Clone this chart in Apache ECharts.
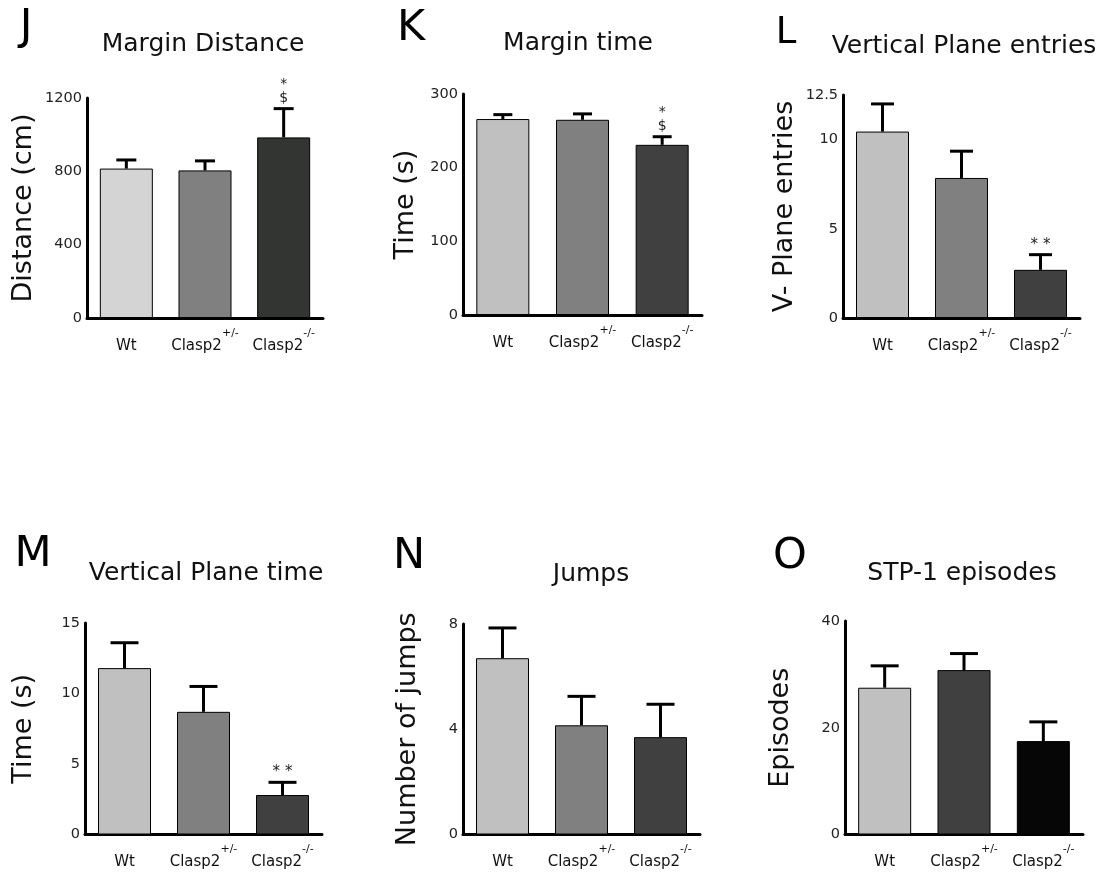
<!DOCTYPE html>
<html><head><meta charset="utf-8">
<script src="https://cdn.jsdelivr.net/npm/echarts@6/dist/echarts.min.js"></script>
<style>html,body{margin:0;padding:0;background:#fff}#c{width:1114px;height:881px}</style>
</head><body><div id="c"></div>
<script>
// ---- data ----
const genotypes = ['Wt', 'Clasp2', 'Clasp2'];
const genotypeSup = ['', '+/-', '-/-'];
const categories = genotypes.map((g, i) => g + genotypeSup[i]);

// J: Margin Distance
const jMean = [815, 805, 985];
const jSem = [47, 52, 157];
const jSig = ['', '', '*\n$'];
const jTicks = [0, 400, 800, 1200];
// K: Margin time
const kMean = [266, 265, 231];
const kSem = [6, 8, 11];
const kSig = ['', '', '*\n$'];
const kTicks = [0, 100, 200, 300];
// L: Vertical Plane entries
const lMean = [10.45, 7.85, 2.7];
const lSem = [1.55, 1.5, 0.85];
const lSig = ['', '', '**'];
const lTicks = [0, 5, 10, 12.5];
// M: Vertical Plane time
const mMean = [11.8, 8.7, 2.8];
const mSem = [1.8, 1.8, 0.9];
const mSig = ['', '', '**'];
const mTicks = [0, 5, 10, 15];
// N: Jumps
const nMean = [6.7, 4.15, 3.7];
const nSem = [1.15, 1.1, 1.25];
const nSig = ['', '', ''];
const nTicks = [0, 4, 8];
// O: STP-1 episodes
const oMean = [27.5, 30.8, 17.5];
const oSem = [4.1, 3.1, 3.6];
const oSig = ['', '', ''];
const oTicks = [0, 20, 40];

// ---- styles / layout ----
const FONT = 'DejaVu Sans';
const greysA = ['#d4d4d4', '#808080', '#333533'];
const greysB = ['#c0c0c0', '#808080', '#404040'];
const greysC = ['#c0c0c0', '#404040', '#060606'];

const panels = [
  {letter: 'J', title: 'Margin Distance', yName: 'Distance (cm)', mean: jMean, sem: jSem, sig: jSig, ticks: jTicks, step: 400,
   colors: greysA, grid: {left: 87, top: 98, width: 236, height: 220}, cap: 20, nameGap: 50, letterPos: [26, 28], letterSize: 43, titlePos: [203, 44]},
  {letter: 'K', title: 'Margin time', yName: 'Time (s)', mean: kMean, sem: kSem, sig: kSig, ticks: kTicks, step: 100,
   colors: greysB, grid: {left: 463, top: 94, width: 239, height: 221}, cap: 19, nameGap: 44, letterPos: [411, 29], letterSize: 43, titlePos: [578, 43]},
  {letter: 'L', title: 'Vertical Plane entries', yName: 'V- Plane entries', mean: lMean, sem: lSem, sig: lSig, ticks: lTicks, step: 2.5,
   colors: greysB, grid: {left: 843, top: 95, width: 237, height: 223}, cap: 23, nameGap: 45, letterPos: [786, 33], letterSize: 37, titlePos: [964, 46]},
  {letter: 'M', title: 'Vertical Plane time', yName: 'Time (s)', mean: mMean, sem: mSem, sig: mSig, ticks: mTicks, step: 5,
   colors: greysB, grid: {left: 85, top: 623, width: 237, height: 220}, cap: 28, nameGap: 48, letterPos: [33, 555], letterSize: 43, titlePos: [206, 573]},
  {letter: 'N', title: 'Jumps', yName: 'Number of jumps', mean: nMean, sem: nSem, sig: nSig, ticks: nTicks, step: 4,
   colors: greysB, grid: {left: 463, top: 624, width: 237, height: 221}, cap: 28, nameGap: 42, letterPos: [409, 557], letterSize: 43, titlePos: [591, 574]},
  {letter: 'O', title: 'STP-1 episodes', yName: 'Episodes', mean: oMean, sem: oSem, sig: oSig, ticks: oTicks, step: 20,
   colors: greysC, grid: {left: 845, top: 621, width: 238, height: 222}, cap: 28, nameGap: 51, letterPos: [790, 557], letterSize: 43, titlePos: [962, 573]}
];

const grids = [], xAxes = [], yAxes = [], series = [], graphics = [];
panels.forEach((p, k) => {
  grids.push(Object.assign({containLabel: false}, p.grid));
  xAxes.push({
    type: 'category', gridIndex: k, data: categories,
    axisLine: {lineStyle: {color: '#000', width: 3}},
    axisTick: {show: false},
    axisLabel: {
      interval: 0, margin: 9, color: '#111',
      formatter: (v, i) => genotypeSup[i] ? `{n|${genotypes[i]}}{s|${genotypeSup[i]}}` : `{n|${genotypes[i]}}`,
      rich: {
        n: {fontSize: 15, fontFamily: FONT, color: '#111', lineHeight: 38},
        s: {fontSize: 11, fontFamily: FONT, color: '#111', lineHeight: 14, padding: [0, 0, 26, 0]}
      }
    }
  });
  const tks = p.ticks;
  yAxes.push({
    type: 'value', gridIndex: k, min: 0, max: tks[tks.length - 1], interval: p.step,
    name: p.yName, nameLocation: 'middle', nameRotate: 90, nameGap: p.nameGap,
    nameTextStyle: {fontSize: 27, fontFamily: FONT, color: '#111'},
    axisLine: {show: true, lineStyle: {color: '#000', width: 3}},
    axisTick: {show: false},
    splitLine: {show: false},
    axisLabel: {
      fontSize: 14.5, fontFamily: FONT, color: '#222', margin: 5,
      formatter: v => tks.some(t => Math.abs(t - v) < 1e-9) ? String(v) : ''
    }
  });
  series.push({
    type: 'bar', xAxisIndex: k, yAxisIndex: k, barWidth: 53,
    data: p.mean.map((v, i) => ({value: v, itemStyle: {color: p.colors[i]}})),
    itemStyle: {borderColor: '#000', borderWidth: 1},
    z: 2
  });
  series.push({
    type: 'custom', xAxisIndex: k, yAxisIndex: k, z: 3,
    encode: {x: 0, y: 1},
    data: p.mean.map((v, i) => [i, v, p.sem[i]]),
    renderItem: (params, api) => {
      const i = api.value(0), m = api.value(1), s = api.value(2);
      const p0 = api.coord([i, m]);
      const p1 = api.coord([i, m + s]);
      const hw = p.cap / 2;
      const children = [
        {type: 'line', shape: {x1: p0[0], y1: p0[1], x2: p1[0], y2: p1[1]}, style: {stroke: '#000', lineWidth: 3}},
        {type: 'line', shape: {x1: p1[0] - hw, y1: p1[1], x2: p1[0] + hw, y2: p1[1]}, style: {stroke: '#000', lineWidth: 3}}
      ];
      const sg = p.sig[params.dataIndex];
      if (sg) {
        const txt = sg === '**' ? '{a|*}{b|*}' : sg;
        children.push({type: 'text', x: p1[0], y: p1[1] - 3,
          style: {text: txt, fontSize: 14, fontFamily: FONT, fill: '#222', align: 'center', verticalAlign: 'bottom', lineHeight: 14,
            rich: {a: {fontSize: 15, fontFamily: FONT, fill: '#222', color: '#222'}, b: {fontSize: 15, fontFamily: FONT, fill: '#222', color: '#222', padding: [0, 0, 0, 5]}}}});
      }
      return {type: 'group', children};
    }
  });
  graphics.push({type: 'text', x: p.letterPos[0], y: p.letterPos[1],
    style: {text: p.letter, fontSize: p.letterSize, fontFamily: FONT, fill: '#000', align: 'center', verticalAlign: 'middle', textAlign: 'center', textVerticalAlign: 'middle'}});
  graphics.push({type: 'text', x: p.titlePos[0], y: p.titlePos[1],
    style: {text: p.title, fontSize: 25, fontFamily: FONT, fill: '#111', align: 'center', verticalAlign: 'middle', textAlign: 'center', textVerticalAlign: 'middle'}});
});

const chart = echarts.init(document.getElementById('c'));
chart.setOption({
  animation: false,
  backgroundColor: '#fff',
  textStyle: {fontFamily: FONT},
  grid: grids, xAxis: xAxes, yAxis: yAxes, series: series, graphic: graphics
});
</script></body></html>
